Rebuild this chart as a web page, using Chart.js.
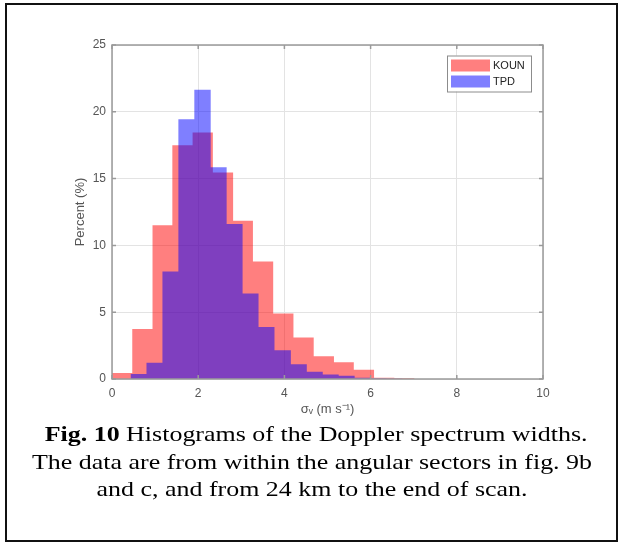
<!DOCTYPE html>
<html>
<head>
<meta charset="utf-8">
<script src="https://cdn.jsdelivr.net/npm/chart.js@4.4.1/dist/chart.umd.min.js"></script>
<style>
  html, body { margin: 0; padding: 0; background: #fff; }
  body { width: 619px; height: 543px; position: relative; overflow: hidden; }
  .frame { position: absolute; left: 5px; top: 3px; width: 613px; height: 539px; border: 2px solid #111; box-sizing: border-box; }
  .plot { position: absolute; left: 0; top: 0; }
  .caption { position: absolute; left: 0; top: 420px; width: 624px; font-family: 'Liberation Serif', 'Times New Roman', serif; font-size: 22px; line-height: 27.7px; color: #000; }
  .caption div { text-align: center; white-space: nowrap; transform: scaleX(1.18); transform-origin: 312px 0; }
</style>
</head>
<body>
<div class="frame"></div>
<canvas id="myChart" class="plot" width="619" height="425"></canvas>
<div class="caption">
  <div style="margin-left: 10px"><b>Fig. 10</b> Histograms of the Doppler spectrum widths.</div>
  <div>The data are from within the angular sectors in fig. 9b</div>
  <div>and c, and from 24 km to the end of scan.</div>
</div>
<script>
// bin left edges (last entry = right edge of last bin) and percent per bin
const kounEdges = [0, 0.47, 0.94, 1.40, 1.87, 2.34, 2.81, 3.27, 3.74, 4.21, 4.68, 5.15, 5.61, 6.08, 6.55, 7.02];
const kounPct = [0.45, 3.75, 11.5, 17.5, 18.45, 15.45, 11.85, 8.8, 4.9, 3.1, 1.7, 1.25, 0.7, 0.1, 0.05];

const tpdEdges = [0.43, 0.80, 1.17, 1.54, 1.91, 2.29, 2.66, 3.03, 3.40, 3.77, 4.15, 4.52, 4.89, 5.26, 5.63, 6.00, 6.37, 6.74];
const tpdPct = [0.38, 1.22, 8.05, 19.45, 21.65, 15.85, 11.6, 6.4, 3.9, 2.15, 1.1, 0.55, 0.33, 0.25, 0.1, 0.04, 0.02];

const xTickValues = [0, 2, 4, 6, 8, 10];
const yTickValues = [0, 5, 10, 15, 20, 25];

// turn edges + heights into points for a stepped, filled line
const histPoints = (edges, pct) => {
  const pts = pct.map((v, i) => ({ x: edges[i], y: v }));
  pts.push({ x: edges[edges.length - 1], y: 0 });
  return pts;
};

// matlab style box around the axes, with inward ticks
const boxFrame = {
  id: 'boxFrame',
  afterDatasetsDraw(chart) {
    const { ctx, chartArea: a, scales } = chart;
    ctx.save();
    ctx.strokeStyle = '#9a9a9a';
    ctx.lineWidth = 1.5;
    ctx.strokeRect(a.left, a.top, a.right - a.left, a.bottom - a.top);
    ctx.beginPath();
    scales.x.ticks.forEach(t => {
      const px = scales.x.getPixelForValue(t.value);
      ctx.moveTo(px, a.bottom); ctx.lineTo(px, a.bottom - 4);
      ctx.moveTo(px, a.top); ctx.lineTo(px, a.top + 4);
    });
    scales.y.ticks.forEach(t => {
      const py = scales.y.getPixelForValue(t.value);
      ctx.moveTo(a.left, py); ctx.lineTo(a.left + 4, py);
      ctx.moveTo(a.right, py); ctx.lineTo(a.right - 4, py);
    });
    ctx.stroke();
    ctx.restore();
  }
};

// legend box in the top right corner of the plot
const boxLegend = {
  id: 'boxLegend',
  afterDatasetsDraw(chart) {
    const { ctx, chartArea } = chart;
    const x = chartArea.right - 96, y = chartArea.top + 10.5;
    ctx.save();
    ctx.fillStyle = '#fff';
    ctx.fillRect(x, y, 84, 36);
    ctx.strokeStyle = '#8c8c8c';
    ctx.lineWidth = 1;
    ctx.strokeRect(x + 0.5, y + 0.5, 84, 36);
    ctx.font = '11px "Liberation Sans", Arial, sans-serif';
    ctx.textBaseline = 'middle';
    chart.data.datasets.forEach((ds, i) => {
      const ry = y + 4 + i * 16;
      ctx.fillStyle = ds.backgroundColor;
      ctx.fillRect(x + 4, ry, 39, 12);
      ctx.fillStyle = '#222';
      ctx.fillText(ds.label, x + 46, ry + 6.5);
    });
    ctx.restore();
  }
};

const ctx = document.getElementById('myChart');
new Chart(ctx, {
  type: 'line',
  data: {
    datasets: [{
      label: 'KOUN',
      data: histPoints(kounEdges, kounPct),
      backgroundColor: 'rgba(255, 0, 0, 0.5)',
      borderColor: 'rgba(0, 0, 0, 0)',
      borderWidth: 0,
      stepped: true,
      fill: 'origin',
      pointRadius: 0,
      order: 1
    }, {
      label: 'TPD',
      data: histPoints(tpdEdges, tpdPct),
      backgroundColor: 'rgba(0, 0, 255, 0.5)',
      borderColor: 'rgba(0, 0, 0, 0)',
      borderWidth: 0,
      stepped: true,
      fill: 'origin',
      pointRadius: 0,
      order: 0
    }]
  },
  options: {
    responsive: false,
    animation: false,
    layout: { padding: { top: 45, right: 76, left: 73, bottom: 8 } },
    plugins: {
      legend: { display: false },
      tooltip: { enabled: false }
    },
    scales: {
      x: {
        type: 'linear',
        min: 0,
        max: 10,
        afterBuildTicks: s => { s.ticks = xTickValues.map(v => ({ value: v })); },
        afterFit: s => { s.height = 38; },
        grid: { color: '#e3e3e3', drawTicks: false },
        border: { display: false },
        ticks: { padding: 7, color: '#555', font: { size: 12 }, maxRotation: 0, autoSkip: false },
        title: { display: true, text: 'σᵥ (m s⁻¹)', color: '#555', font: { size: 13 }, padding: 0 }
      },
      y: {
        min: 0,
        max: 25,
        afterBuildTicks: s => { s.ticks = yTickValues.map(v => ({ value: v })); },
        afterFit: s => { s.width = 39; },
        grid: { color: '#e3e3e3', drawTicks: false },
        border: { display: false },
        ticks: { padding: 6, color: '#555', font: { size: 12 } },
        title: { display: true, text: 'Percent (%)', color: '#555', font: { size: 13 }, padding: 0 }
      }
    }
  },
  plugins: [boxFrame, boxLegend]
});
</script>
</body>
</html>
